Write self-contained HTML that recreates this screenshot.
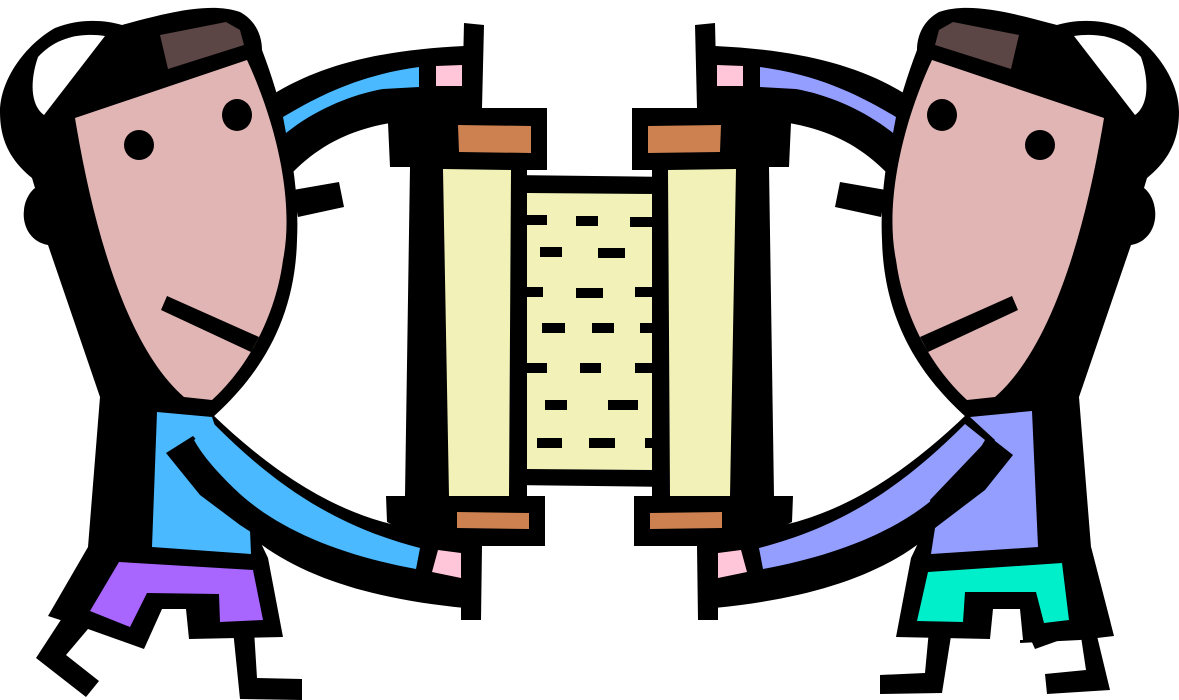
<!DOCTYPE html>
<html><head><meta charset="utf-8"><style>html,body{margin:0;padding:0;background:#fff;width:1179px;height:700px;overflow:hidden}svg{display:block}</style></head>
<body>
<svg width="1179" height="700" viewBox="0 0 1179 700" xmlns="http://www.w3.org/2000/svg">
<defs>
<g id="roller">
  <polygon fill="#000" points="464,23 484,25 482,108 547,108 547,170 527,170 527,496 545,496 545,546 482,546 481,620 461,620 461,600 462,560 387,522 386,496 405,496 410,167 390,167 388,123 462,110"/>
  <polygon fill="#cd8150" points="458,125 531,126 531,153 459,152"/>
  <polygon fill="#f2f2b8" points="443,169 511,170 509,496 449,496"/>
  <polygon fill="#cd8150" points="457,512 529,513 529,529 457,528"/>
</g>
<g id="headarms">
  <polygon fill="#000" points="100,397 212,418 250,520 268,558 283,637 189,639 186,609 162,609 144,649 88,629 48,616 88,547"/>
  <path fill="#000" d="M122,25 C170,12 210,2 240,12 C255,20 262,35 262,50 C285,110 300,180 297,240 C295,320 260,375 212,418 L157,412 L100,397 L48,245 C30,242 22,225 24,210 C25,198 32,190 35,188 L32,178 C10,160 0,140 0,112 C0,80 25,45 55,28 C80,18 105,20 122,25Z"/>
  <path fill="#fff" d="M44,115 C30,105 30,80 38,57 C55,38 80,32 105,36Z"/>
  <path fill="#e2b5b5" d="M75,118 L247,60 C275,120 295,200 283,260 C275,320 245,370 212,400 L184,397 C130,350 95,240 75,118Z"/>
  <polygon fill="#5b4545" points="160,35 226,22 240,30 244,45 168,69"/>
  <ellipse cx="139" cy="145" rx="15" ry="15" fill="#000"/>
  <ellipse cx="237" cy="115" rx="15" ry="16" fill="#000"/>
  <polygon fill="#000" points="167,296 259,337 251,352 161,310"/>
  <polygon fill="#000" points="293,190 339,182 344,207 298,217"/>
  <path fill="#000" d="M272,95 C320,65 380,50 464,46 L482,108 L390,123 C350,130 320,145 293,172 Z"/>
  <polygon fill="#ffc5d9" points="436,66 462,65 462,86 436,86"/>
  <path fill="#000" d="M212,414 C270,470 330,510 395,525 L465,545 L465,608 C380,600 310,580 262,545 C230,525 195,495 166,453 L193,436Z"/>
  <polygon fill="#ffc5d9" points="438,550 461,553 461,578 432,572"/>
</g>
</defs>
<rect width="1179" height="700" fill="#fff"/>
<polygon fill="#000" points="510,175 672,177 672,487 510,485"/>
<polygon fill="#f2f2b8" points="527,193 656,194 656,470 526,469"/>
<g fill="#000">
<rect x="527" y="215" width="20" height="10"/><rect x="576" y="216" width="22" height="10"/><rect x="630" y="217" width="22" height="10"/>
<rect x="540" y="247" width="22" height="10"/><rect x="598" y="248" width="27" height="10"/>
<rect x="527" y="287" width="16" height="10"/><rect x="576" y="288" width="27" height="10"/><rect x="635" y="287" width="20" height="10"/>
<rect x="542" y="323" width="23" height="10"/><rect x="592" y="323" width="22" height="10"/><rect x="640" y="323" width="15" height="10"/>
<rect x="527" y="363" width="20" height="10"/><rect x="580" y="363" width="21" height="10"/><rect x="635" y="363" width="20" height="10"/>
<rect x="545" y="400" width="22" height="10"/><rect x="608" y="400" width="30" height="10"/>
<rect x="537" y="438" width="25" height="10"/><rect x="589" y="438" width="26" height="10"/><rect x="645" y="438" width="10" height="10"/>
</g>
<use href="#roller"/>
<g transform="translate(1179,0) scale(-1,1)"><use href="#roller"/></g>

<use href="#headarms"/>
<path fill="#4bb9ff" d="M283,117 C320,95 360,75 419,67 L419,87 L383,89 C350,95 315,110 286,133Z"/>
<polygon fill="#4bb9ff" points="157,412 212,417 250,530 251,554 152,547"/>
<polygon fill="#000" points="166,453 193,436 225,470 250,490 266,542 240,525 200,495"/>
<path fill="#4bb9ff" d="M214,424 C270,480 330,525 420,548 L416,569 C340,555 280,530 240,494 C225,480 205,460 194,440Z"/>
<polygon fill="#a866ff" points="119,562 253,570 263,620 220,622 219,594 147,593 130,627 90,611"/>
<polygon fill="#000" points="66,612 88,629 66,655 99,681 86,697 36,658"/>
<polygon fill="#000" points="233,630 254,630 257,678 302,679 302,700 240,699"/>

<g transform="translate(1179,0) scale(-1,1)">
<use href="#headarms"/>
<path fill="#949eff" d="M283,117 C320,95 360,75 419,67 L419,87 L383,89 C350,95 315,110 286,133Z"/>
<path fill="#949eff" d="M214,424 C270,480 330,525 420,548 L416,569 C340,555 280,530 240,494 C225,480 205,460 194,440Z"/>
</g>
<polygon fill="#fff" points="1091,547 1160,547 1160,700 1060,700 1060,640 1114,636"/>
<g fill="#000">
<polygon points="1079,555 1091,547 1114,636 1080,640"/>
<polygon points="929,630 951,636 942,693 880,694 880,675 925,673"/>
<polygon points="1080,630 1097,636 1110,690 1047,694 1045,674 1086,670"/>
<polygon points="1020,612 1080,612 1080,640 1020,643"/>
</g>
<polygon fill="#fff" points="995,609 1020,609 1023,640 995,640"/>
<polygon fill="#949eff" points="970,417 1032,411 1038,547 931,554 935,528 960,500 995,440"/>
<polygon fill="#000" points="990,437 1013,455 985,490 935,528 930,500"/>
<polygon fill="#00efcb" points="928,572 1062,563 1069,620 1044,623 1036,592 965,592 963,622 917,621"/>
</svg>
</body></html>
